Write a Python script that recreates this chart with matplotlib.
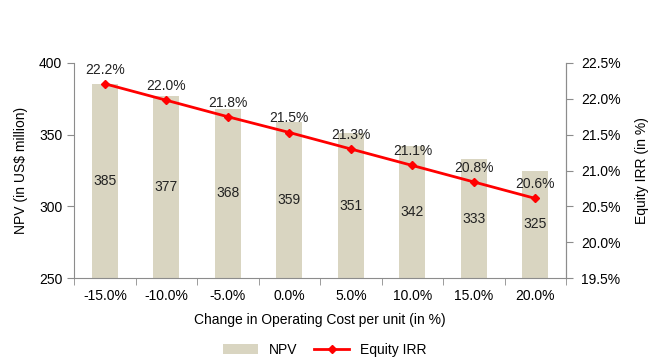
import numpy as np
import matplotlib.pyplot as plt
from matplotlib.ticker import FuncFormatter, FixedLocator

plt.rcParams['font.family'] = ['Liberation Sans', 'DejaVu Sans']

categories = ['-15.0%', '-10.0%', '-5.0%', '0.0%', '5.0%', '10.0%', '15.0%', '20.0%']
npv = [385, 377, 368, 359, 351, 342, 333, 325]
irr = [22.21, 21.98, 21.75, 21.53, 21.30, 21.07, 20.84, 20.61]

grey = '#8c8c8c'
bar_col = '#d9d5c1'
x = np.arange(len(categories))

fig = plt.figure(figsize=(6.5, 3.62), dpi=100)
ax = fig.add_axes([0.114, 0.232, 0.757, 0.594])
bars = ax.bar(x, npv, width=0.42, color=bar_col, label='NPV', zorder=1)
ax.set_ylim(250, 400)
ax.set_yticks([250, 300, 350, 400])
ax.set_xlim(-0.5, len(categories) - 0.5)
ax.set_xticks(x)
ax.set_xticklabels(categories)
ax.xaxis.set_minor_locator(FixedLocator(np.arange(-0.5, len(categories), 1.0)))
ax.tick_params(axis='x', which='major', length=0, pad=8)
ax.tick_params(axis='x', which='minor', length=5, color=grey)
ax.tick_params(axis='y', length=5, color=grey, labelsize=10)
ax.tick_params(axis='x', labelsize=10)
ax.set_ylabel('NPV (in US$ million)', fontsize=10, labelpad=8)
ax.set_xlabel('Change in Operating Cost per unit (in %)', fontsize=10, labelpad=7)
ax.spines['top'].set_visible(False)
for s in ['left', 'bottom', 'right']:
    ax.spines[s].set_color(grey)

# bar value labels, centred in the visible part of each bar
for xi, v in zip(x, npv):
    ax.text(xi, (250 + v) / 2, str(v), ha='center', va='center', fontsize=10, color='#222222')

ax2 = ax.twinx()
line, = ax2.plot(x, irr, color='#ff0000', lw=2, marker='D', ms=4, label='Equity IRR', zorder=3)
ax2.set_ylim(19.5, 22.5)
ax2.set_yticks(np.arange(19.5, 22.51, 0.5))
ax2.yaxis.set_major_formatter(FuncFormatter(lambda v, p: '%.1f%%' % v))
ax2.tick_params(axis='y', length=5, color=grey, labelsize=10, pad=6)
ax2.set_ylabel('Equity IRR (in %)', fontsize=10, labelpad=10)
for s in ['top', 'left', 'bottom']:
    ax2.spines[s].set_visible(False)
ax2.spines['right'].set_color(grey)

for xi, v in zip(x, irr):
    ax2.text(xi, v + 0.1, '%.1f%%' % v, ha='center', va='bottom', fontsize=10, color='#222222')

fig.legend([bars, line], ['NPV', 'Equity IRR'], loc='lower center', ncol=2,
           bbox_to_anchor=(0.5, -0.02), frameon=False, fontsize=10,
           handlelength=2.5, columnspacing=1.2)

fig.savefig('out.png', dpi=100)
